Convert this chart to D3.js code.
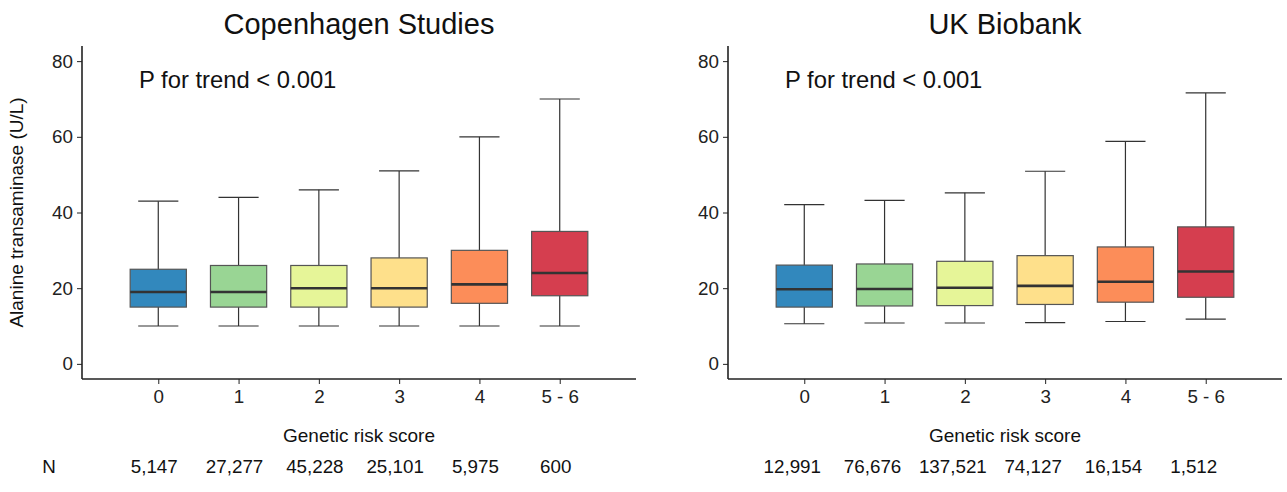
<!DOCTYPE html>
<html>
<head>
<meta charset="utf-8">
<script src="https://cdn.jsdelivr.net/npm/d3@7"></script>
<style>
  body { margin: 0; background: #fff; }
  svg { display: block; font-family: "Liberation Sans", Arial, sans-serif; }
  .axis path, .axis line { stroke: #222; }
  .axis text { fill: #222; font-size: 18.8px; }
</style>
</head>
<body>
<svg width="1287" height="492"></svg>
<script>
var categories = ["0", "1", "2", "3", "4", "5 - 6"];
var colors = ["#3288bd", "#99d594", "#e6f598", "#fee08b", "#fc8d59", "#d53e4f"];
var yTicks = [0, 20, 40, 60, 80];

// Copenhagen Studies
var cphLow = [10, 10, 10, 10, 10, 10];
var cphQ1 = [15, 15, 15, 15, 16, 18];
var cphMedian = [19, 19, 20, 20, 21, 24];
var cphQ3 = [25, 26, 26, 28, 30, 35];
var cphHigh = [43, 44, 46, 51, 60, 70];
var cphN = ["5,147", "27,277", "45,228", "25,101", "5,975", "600"];

// UK Biobank
var ukLow = [10.6, 10.8, 10.8, 10.9, 11.2, 11.8];
var ukQ1 = [15.0, 15.3, 15.4, 15.7, 16.3, 17.6];
var ukMedian = [19.7, 19.8, 20.1, 20.6, 21.7, 24.4];
var ukQ3 = [26.1, 26.4, 27.1, 28.6, 30.9, 36.2];
var ukHigh = [42.1, 43.2, 45.2, 50.9, 58.8, 71.6];
var ukN = ["12,991", "76,676", "137,521", "74,127", "16,154", "1,512"];

var svg = d3.select("svg");
var plotTop = 46, plotBottom = 379;

var y = d3.scaleLinear().domain([-4, 84]).range([plotBottom, plotTop]);

function drawPanel(title, left, right, low, q1, med, q3, high, nVals, nShift, showYTitle) {
  var x = d3.scalePoint().domain(categories).range([left, right]).padding(0.95);
  var step = x.step();
  var boxW = step * 0.7, capW = step * 0.5;

  var rows = categories.map(function (c, i) {
    return { cat: c, low: low[i], q1: q1[i], med: med[i], q3: q3[i], high: high[i], n: nVals[i], color: colors[i] };
  });

  svg.append("text")
    .attr("x", (left + right) / 2).attr("y", 33.5)
    .attr("text-anchor", "middle")
    .style("font-size", "29px").style("fill", "#111")
    .text(title);

  svg.append("text")
    .attr("x", left + 57).attr("y", 88.3)
    .style("font-size", "23.8px").style("fill", "#111")
    .text("P for trend < 0.001");

  var g = svg.append("g");

  // whiskers
  g.selectAll(".whisker").data(rows).enter().append("line")
    .attr("x1", function (d) { return x(d.cat); })
    .attr("x2", function (d) { return x(d.cat); })
    .attr("y1", function (d) { return y(d.low); })
    .attr("y2", function (d) { return y(d.high); })
    .attr("stroke", "#333").attr("stroke-width", 1.2);

  ["low", "high"].forEach(function (k) {
    g.selectAll(".cap-" + k).data(rows).enter().append("line")
      .attr("x1", function (d) { return x(d.cat) - capW / 2; })
      .attr("x2", function (d) { return x(d.cat) + capW / 2; })
      .attr("y1", function (d) { return y(d[k]); })
      .attr("y2", function (d) { return y(d[k]); })
      .attr("stroke", "#333").attr("stroke-width", 1.2);
  });

  g.selectAll(".box").data(rows).enter().append("rect")
    .attr("x", function (d) { return x(d.cat) - boxW / 2; })
    .attr("width", boxW)
    .attr("y", function (d) { return y(d.q3); })
    .attr("height", function (d) { return y(d.q1) - y(d.q3); })
    .attr("fill", function (d) { return d.color; })
    .attr("stroke", "#555").attr("stroke-width", 1.2);

  g.selectAll(".median").data(rows).enter().append("line")
    .attr("x1", function (d) { return x(d.cat) - boxW / 2; })
    .attr("x2", function (d) { return x(d.cat) + boxW / 2; })
    .attr("y1", function (d) { return y(d.med); })
    .attr("y2", function (d) { return y(d.med); })
    .attr("stroke", "#333").attr("stroke-width", 2.6);

  // axes
  var ya = svg.append("g").attr("class", "axis")
    .attr("transform", "translate(" + left + ",0)")
    .call(d3.axisLeft(y).tickValues(yTicks).tickSize(5).tickPadding(4));
  ya.select(".domain").attr("d", "M0," + plotTop + "V" + plotBottom).attr("stroke-width", 1.6);

  var xa = svg.append("g").attr("class", "axis")
    .attr("transform", "translate(0," + plotBottom + ")")
    .call(d3.axisBottom(x).tickSize(5).tickPadding(4));
  xa.select(".domain").attr("d", "M" + left + ",0H" + right).attr("stroke-width", 1.6);
  xa.selectAll("text").attr("dy", "0.2em").attr("y", 20);

  svg.append("text")
    .attr("x", (left + right) / 2).attr("y", 442)
    .attr("text-anchor", "middle")
    .style("font-size", "19px").style("fill", "#111")
    .text("Genetic risk score");

  svg.selectAll(null).data(rows).enter().append("text")
    .attr("x", function (d) { return x(d.cat) + nShift; })
    .attr("y", 473.3)
    .attr("text-anchor", "middle")
    .style("font-size", "18.8px").style("fill", "#111")
    .text(function (d) { return d.n; });

  if (showYTitle) {
    svg.append("text")
      .attr("transform", "translate(23," + (plotTop + plotBottom) / 2 + ") rotate(-90)")
      .attr("text-anchor", "middle")
      .style("font-size", "19px").style("fill", "#111")
      .text("Alanine transaminase (U/L)");
    svg.append("text")
      .attr("x", 49).attr("y", 473.3)
      .attr("text-anchor", "middle")
      .style("font-size", "18.8px").style("fill", "#111")
      .text("N");
  }
}

drawPanel("Copenhagen Studies", 82, 636, cphLow, cphQ1, cphMedian, cphQ3, cphHigh, cphN, -4, true);
drawPanel("UK Biobank", 728, 1282, ukLow, ukQ1, ukMedian, ukQ3, ukHigh, ukN, -12, false);
</script>
</body>
</html>
